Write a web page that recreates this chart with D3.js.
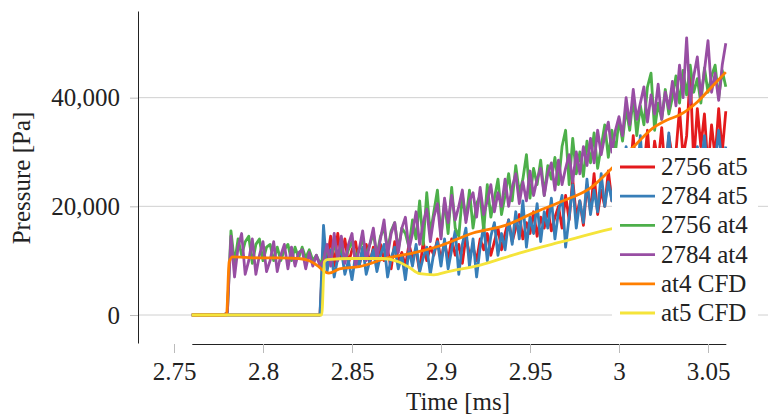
<!DOCTYPE html>
<html><head><meta charset="utf-8">
<script src="https://cdn.jsdelivr.net/npm/d3@7"></script>
<style>body{margin:0;background:#fff}svg{display:block}
svg text{font-family:"Liberation Serif","Times New Roman",Times,serif !important;}
</style>
</head><body>
<svg id="c" width="768" height="416"></svg>
<script>
// ---- data (pressure in kPa, sampled every 0.002 ms from 2.76 ms) ----
const tStart = 2.76, tStep = 0.002;
const xTicks = [2.75, 2.8, 2.85, 2.9, 2.95, 3, 3.05];
const yTicks = [0, 20000, 40000];
const seriesNames = ["2756 at5", "2784 at5", "2756 at4", "2784 at4", "at4 CFD", "at5 CFD"];

const p2756at5 = [0,0,0,0,0,0,0,0,0,0,0,0,0,0,0,0,0,0,0,0,0,0,0,0,0,0,0,0,0,0,0,0,0,0,0,0,0,
  13,
  10,14.5,9,15,10.5,14,9.5,12,13.5,9,12,13,9.5,
  12.5,9,13,10,12,8.5,13.5,10,11.5,9,13,10.5,12,8,13.5,10,12.5,11,14,10,
  13.5,10,14,11,13,9.5,14.5,11,12.5,10,14,12,15,11,13.5,16,12,
  15,17.5,13.5,16,18.5,14,17,15,19,14.5,18,16,19.5,15.5,18,
  20,16,22,17.5,25,18,21,16.5,24,19,26,18.5,23,20,26.5,21,24,27,
  22,30,25,33,24,31,27,34,25,32,28,34.5,26,33,29,
  30,38,29,33,44.5,28,38,31,37,27,35,29,38,30,37.5];

const p2784at5 = [0,0,0,0,0,0,0,0,0,0,0,0,0,0,0,0,0,0,0,0,0,0,0,0,0,0,0,0,0,0,0,0,0,0,0,0,0,
  16.5,
  8,12,7,10.5,12,7.5,10,6.5,11,9,12.5,7.5,10,
  12,8,11,13,7,10.5,12.5,8.5,11,6.5,12,9,13,8,10.5,12.5,7.5,11.5,13.5,9,
  14,8.5,12,15.5,7.5,13,16,9,14,7,12.5,16.5,10,14.5,17,11,15,
  12,17.5,13,19,14,21,12.5,18,15,20.5,13.5,19,16,21.5,14,
  19,22,12.5,18,24,16,21,17,25,18.5,23,19,26,20,24.5,21,28,22,
  26,31,22,27,24,33,23,28,25,30,24,29,26,33.5,25,
  28,26,30,27,29,25,31,27,33,26,30,28,34,27,31];

const p2756at4 = [0,0,0,0,0,0,0,0,0,0,
  0.5,
  15.5,9.5,14,11,13.5,14.5,9.5,13,14,10,
  12.5,13,10,12.5,10,12,13,10,12.5,10.5,
  12.5,10.5,12,10,11,9.5,10.5,
  12,10,13,11,12.5,10,12,13.5,10.5,12,14,11,13,
  15,11,14.5,16,12,15.5,17,12,16,15,12.5,17.5,14,21,13,22.5,15,19,23,14.5,
  21,15,23.5,16,14.5,22,17.5,23,16,20.5,22,15.5,24,18,21.5,25,18.5,
  22,26,21,27.5,22.5,25,29.5,21.5,27,24,28.5,22,27.5,25,29,
  24,31,34,24,32.5,26,30,25.5,32,28,33.5,27,31,35,29,34,30,36,
  32,38,34,40,33,38.5,35,42,44.5,34,39,36,41.5,37,40,
  44,39,45,40.5,46,41,43.5,39,45.5,41,44,46,40,45,42];

const p2784at4 = [0,0,0,0,0,0,0,0,0,0,
  0.5,
  14.5,7,12.5,15,7.5,10,14,7.5,11,13.5,
  8,10,13.5,8,11,13,8.5,12.5,9,11.5,
  12,8.5,11.5,9,11,9,10,
  13,9,15,10,14.5,9.5,13,15,9,12,15.5,10,13,
  16,10.5,14,17.5,11,15,17,11.5,16,18,12,15,19,13,17,19.5,13.5,18,20.5,14,
  21.5,17,22,17.5,20,23,17,21,22.5,18,23.5,18.5,21,24,19,22.5,20,
  25,20,23.5,26,20.5,24.5,21,26.5,22,25,27,22,26,28,23,
  28.5,24,27,29.5,24.5,30,26,31,27.5,32.5,28,34,29.5,33,35.5,30,34,36.5,
  33,40,35,41.5,36,39,42,35.5,40.5,37,42.5,36,41,38,43,
  38.5,46,40,51,39,44,47.5,40,45,50.5,41,44.5,39.5,46,50];

const cfdAt4Time = [2.76,2.7795,2.781,2.783,2.79,2.80,2.81,2.82,2.826,2.831,2.835,2.837,2.843,2.854,2.87,2.884,2.90,2.918,2.937,2.952,2.967,2.984,2.996,3.008,3.019,3.027,3.034,3.044,3.053,3.06];
const cfdAt4 = [0,0,9.8,10.7,10.6,10.5,10.5,10.4,10.0,9.0,7.9,7.7,8.5,8.9,10.5,11.4,12.8,15.1,16.6,18.8,20.8,23.4,27.0,30.9,34.4,35.9,36.8,39.2,42.3,44.7];

const cfdAt5Time = [2.76,2.8330,2.8345,2.836,2.85,2.867,2.876,2.882,2.888,2.896,2.904,2.922,2.944,2.967,2.995,3.02,3.04,3.06];
const cfdAt5 = [0,0,9.8,10.2,10.4,10.4,9.8,8.8,7.6,7.4,8.0,9.2,11.4,13.4,15.8,17.5,19,20.5];

const colors = ["#e41a1c", "#377eb8", "#4daf4a", "#984ea3", "#ff7f00", "#f5e43a"];

// ---- chart ----
const svg = d3.select("#c");
const font = "Liberation Serif";
const fs = 25;
const x = d3.scaleLinear().domain([2.76, 3.06]).range([191.8, 725.8]);
const y = d3.scaleLinear().domain([-5150, 55950]).range([343, 11]);

// gridlines
svg.append("g").selectAll("line").data(yTicks).join("line")
  .attr("x1", 138).attr("x2", 768)
  .attr("y1", d => y(d)).attr("y2", d => y(d))
  .attr("stroke", "#d0d0d0").attr("stroke-width", 1);

// y axis
const gy = svg.append("g").attr("transform", "translate(138,0)")
  .call(d3.axisLeft(y).tickValues(yTicks).tickFormat(d3.format(",")).tickSize(8).tickSizeOuter(0).tickPadding(10));
gy.select(".domain").attr("stroke", "#222");
gy.selectAll(".tick line").attr("stroke", "#bbb");
gy.selectAll("text").attr("font-family", font).attr("font-size", fs).attr("fill", "#222");

// x axis
const gx = svg.append("g").attr("transform", "translate(0,344)")
  .call(d3.axisBottom(x).tickValues(xTicks).tickFormat(d => String(d)).tickSize(9).tickSizeOuter(0).tickPadding(9));
gx.select(".domain").attr("stroke", "#222");
gx.selectAll(".tick line").attr("stroke", "#bbb");
gx.selectAll("text").attr("font-family", font).attr("font-size", fs).attr("fill", "#222");

// axis titles
svg.append("text").attr("x", 458).attr("y", 410).attr("text-anchor", "middle")
  .attr("font-family", font).attr("font-size", fs).attr("fill", "#222").text("Time [ms]");
svg.append("text").attr("transform", "translate(30,178) rotate(-90)").attr("text-anchor", "middle")
  .attr("font-family", font).attr("font-size", fs).attr("fill", "#222").text("Pressure [Pa]");

// series
const sampled = [p2756at5, p2784at5, p2756at4, p2784at4];
const line = d3.line().x(d => x(d[0])).y(d => y(d[1] * 1000));
sampled.forEach((arr, k) => {
  const pts = arr.map((v, i) => [tStart + tStep * i, v]);
  svg.append("path").attr("d", line(pts)).attr("fill", "none")
    .attr("stroke", colors[k]).attr("stroke-width", 2.8).attr("stroke-linejoin", "round");
});
const smoothLine = d3.line().x(d => x(d[0])).y(d => y(d[1] * 1000)).curve(d3.curveMonotoneX);
[[cfdAt4Time, cfdAt4], [cfdAt5Time, cfdAt5]].forEach(([ts, vs], k) => {
  const pts = ts.map((t, i) => [t, vs[i]]);
  svg.append("path").attr("d", smoothLine(pts)).attr("fill", "none")
    .attr("stroke", colors[4 + k]).attr("stroke-width", 2.8).attr("stroke-linejoin", "round");
});

// legend
const lg = svg.append("g");
lg.append("rect").attr("x", 612).attr("y", 148).attr("width", 146).attr("height", 182).attr("fill", "#fff");
seriesNames.forEach((name, i) => {
  const cy = 167 + i * 29.2;
  lg.append("line").attr("x1", 620).attr("x2", 655).attr("y1", cy).attr("y2", cy)
    .attr("stroke", colors[i]).attr("stroke-width", 2.8);
  lg.append("text").attr("x", 661).attr("y", cy + 8).attr("font-family", font).attr("font-size", fs)
    .attr("fill", "#222").text(name);
});
</script>
</body></html>
